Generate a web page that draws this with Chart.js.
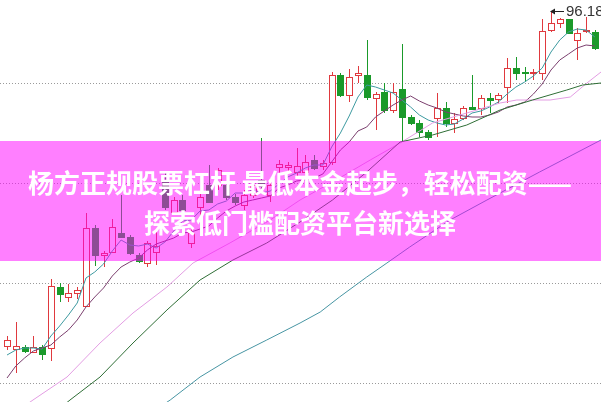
<!DOCTYPE html>
<html>
<head>
<meta charset="utf-8">
<script src="https://cdn.jsdelivr.net/npm/chart.js@4.4.1/dist/chart.umd.min.js"></script>
<style>
  html, body { margin: 0; padding: 0; background: #fff; }
  canvas { display: block; }
</style>
</head>
<body>
<canvas id="kChart" width="601" height="402"></canvas>
<script>
// K线数据 (按日)
const opens = [
  62.70, 62.40, 62.60, 62.10, 62.60, 62.50, 68.60, 67.60, 68.00, 66.70,
  74.50, 71.80, 72.10, 74.00, 73.60, 71.80, 71.00, 72.10, 79.30, 76.10,
  77.30, 73.00, 76.60, 78.80, 78.80, 78.80, 77.60, 76.80, 77.80, 79.30,
  77.80, 80.60, 80.60, 80.10, 80.10, 81.30, 80.70, 81.10, 89.80, 87.80,
  89.80, 89.80, 87.50, 88.10, 86.30, 88.40, 85.60, 85.00, 84.10, 85.50,
  86.50, 85.00, 85.50, 86.60, 86.50, 87.50, 87.40, 88.60, 90.50, 90.10,
  90.00, 90.00, 94.30, 95.00, 95.40, 93.30, 94.20, 94.10
];
const highs = [
  63.70, 65.10, 62.80, 63.70, 62.80, 69.40, 69.00, 68.90, 68.60, 76.00,
  74.80, 72.20, 75.40, 77.80, 73.80, 72.00, 73.20, 74.30, 80.00, 77.60,
  77.80, 74.50, 78.00, 80.80, 80.50, 79.10, 77.90, 78.30, 79.10, 83.50,
  79.50, 81.30, 81.10, 82.50, 81.80, 81.80, 81.30, 90.10, 90.00, 90.40,
  90.70, 93.30, 88.10, 89.00, 89.00, 92.90, 85.80, 85.30, 84.30, 88.00,
  87.10, 86.00, 86.70, 89.80, 87.80, 88.00, 88.00, 91.50, 91.60, 90.60,
  90.40, 95.40, 96.18, 95.50, 95.40, 94.50, 95.60, 94.30
];
const lows = [
  62.30, 60.00, 62.00, 62.00, 61.30, 61.20, 67.10, 67.10, 67.40, 66.60,
  70.70, 70.60, 72.00, 73.50, 71.80, 71.00, 70.60, 70.80, 76.30, 75.80,
  76.00, 72.50, 74.30, 77.00, 78.30, 77.30, 76.80, 76.30, 77.50, 78.30,
  77.10, 79.50, 80.10, 79.60, 79.60, 80.30, 80.30, 80.80, 87.60, 87.10,
  89.00, 87.30, 84.30, 86.00, 86.00, 83.10, 84.80, 83.60, 83.30, 83.60,
  84.60, 84.00, 85.30, 86.30, 85.80, 86.00, 87.00, 87.00, 89.30, 89.10,
  89.30, 89.30, 94.10, 94.50, 94.00, 91.30, 94.00, 92.30
];
const closes = [
  63.30, 62.70, 62.20, 62.60, 61.90, 68.70, 67.90, 68.00, 68.30, 74.50,
  71.80, 72.00, 74.60, 73.60, 72.00, 71.20, 73.00, 72.70, 76.60, 77.30,
  76.30, 74.00, 77.60, 77.10, 80.30, 77.60, 77.10, 77.80, 78.80, 78.70,
  78.80, 80.90, 80.80, 80.70, 81.10, 80.50, 81.00, 89.80, 87.80, 89.60,
  90.00, 87.60, 87.90, 86.30, 88.10, 85.60, 85.00, 84.10, 83.60, 86.50,
  85.00, 85.40, 86.50, 86.40, 87.50, 87.30, 87.80, 90.50, 90.00, 90.00,
  90.10, 94.20, 95.00, 95.40, 94.00, 94.00, 94.30, 92.50
];

// 均线
const ma5 = [
  61.8, 62.3, 62.5, 62.5, 62.4, 63.7, 64.7, 65.8, 67.0, 69.5,
  70.1, 70.9, 72.2, 73.3, 72.8, 72.7, 72.9, 72.5, 73.1, 74.2,
  75.2, 75.3, 76.2, 76.3, 76.9, 77.2, 78.0, 78.0, 78.3, 78.0,
  78.2, 78.9, 79.6, 80.0, 80.5, 80.8, 80.8, 82.6, 84.0, 85.7,
  87.6, 88.8, 88.6, 88.3, 88.0, 87.3, 86.6, 85.8, 85.3, 85.0,
  84.8, 84.9, 85.4, 86.0, 86.2, 86.6, 87.1, 87.9, 88.6, 89.1,
  89.7, 90.5, 92.1, 93.3, 94.1, 94.4, 94.3, 93.6
];
const ma10 = [
  59.5, 60.7, 61.5, 62.2, 62.5, 62.8, 63.6, 64.3, 65.3, 66.6,
  67.6, 68.5, 69.7, 70.6, 71.1, 71.5, 72.3, 72.9, 73.2, 73.5,
  74.0, 74.1, 74.4, 74.7, 75.5, 76.2, 76.7, 77.1, 77.3, 77.5,
  77.7, 78.5, 78.8, 79.2, 79.3, 79.5, 79.9, 81.1, 82.3, 83.1,
  84.2, 84.6, 85.6, 86.2, 86.8, 87.3, 87.7, 87.2, 86.8, 86.5,
  86.1, 85.9, 85.7, 85.6, 85.6, 85.8, 86.1, 86.6, 86.8, 87.1,
  87.9, 88.9, 90.3, 91.3, 91.9, 92.5, 92.8, 92.7
];
const ma20Idx = [0, 2.96, 6.84, 10.6, 14.36, 18.23, 21.2, 25.4, 30.0, 33.4, 37.9, 41.4, 44.8, 48.5, 52.4, 56.2, 58.1, 61.9, 64.2, 66.1, 67.7];
const ma20 = [55.5, 57.3, 59.6, 63.0, 66.0, 68.6, 71.0, 73.0, 75.3, 77.3, 79.5, 81.3, 83.0, 85.0, 86.0, 87.0, 87.3, 87.3, 87.6, 89.0, 90.1];
const ma60Idx = [5.5, 7.18, 10.6, 14.36, 18.23, 22.0, 25.75, 29.6, 33.4, 37.1, 41.0, 44.8, 48.5, 52.4, 56.2, 59.9, 63.8, 65.6, 67.7];
const ma60 = [56.1, 57.3, 59.6, 63.0, 66.3, 69.3, 71.3, 73.0, 75.1, 77.3, 80.1, 83.1, 83.8, 84.8, 86.3, 87.3, 88.3, 88.8, 89.0];
const ma120Idx = [17.4, 18.6, 22.0, 25.75, 29.6, 33.4, 35.7, 37.9, 41.0, 43.3, 45.9, 50.5, 54.7, 60.7, 67.7];
const ma120 = [56.6, 57.3, 59.6, 61.6, 63.3, 65.0, 66.1, 67.6, 69.6, 71.0, 72.6, 75.3, 77.3, 80.1, 83.3];

const gridValues = [59, 69, 79, 89];

const bannerLines = ['杨方正规股票杠杆 最低本金起步，轻松配资——', '探索低门槛配资平台新选择'];

const UP = '#e0393e';
const DOWN = '#1a9a2a';

function pts(xs, ys) {
  return ys.map((v, i) => ({ x: xs ? xs[i] : i, y: v }));
}

// 画K线
const candlePlugin = {
  id: 'candles',
  beforeDatasetsDraw(chart) {
    const { ctx, scales: { x, y } } = chart;
    ctx.save();
    ctx.lineWidth = 1;
    for (let i = 0; i < opens.length; i++) {
      const cx = Math.round(x.getPixelForValue(i));
      const yo = y.getPixelForValue(opens[i]);
      const yc = y.getPixelForValue(closes[i]);
      const yh = Math.round(y.getPixelForValue(highs[i]));
      const yl = Math.round(y.getPixelForValue(lows[i]));
      const top = Math.round(Math.min(yo, yc));
      const bot = Math.round(Math.max(yo, yc));
      const up = closes[i] >= opens[i];
      const col = up ? UP : DOWN;
      ctx.strokeStyle = col;
      ctx.fillStyle = col;
      ctx.beginPath();
      ctx.moveTo(cx + 0.5, yh);
      ctx.lineTo(cx + 0.5, top);
      ctx.moveTo(cx + 0.5, bot);
      ctx.lineTo(cx + 0.5, yl);
      ctx.stroke();
      if (bot - top < 1) {
        ctx.fillRect(cx - 3, top, 7, 1);
      } else if (up) {
        ctx.fillStyle = '#fff';
        ctx.fillRect(cx - 3, top, 7, bot - top);
        ctx.strokeRect(cx - 2.5, top + 0.5, 6, bot - top);
      } else {
        ctx.fillRect(cx - 3, top, 7, bot - top + 1);
      }
    }
    ctx.restore();
  }
};

// 横幅 + 最高价标注
const overlayPlugin = {
  id: 'overlay',
  afterDatasetsDraw(chart) {
    const { ctx, scales: { x, y } } = chart;
    ctx.save();
    ctx.fillStyle = 'rgba(255,0,255,0.5)';
    ctx.fillRect(0, 141, chart.width, 120);
    ctx.fillStyle = '#fff';
    ctx.font = 'bold 26px "Noto Sans CJK SC"';
    ctx.textAlign = 'center';
    ctx.textBaseline = 'middle';
    ctx.fillText(bannerLines[0], 300, 183);
    ctx.fillText(bannerLines[1], 300, 223);

    let hi = 0;
    highs.forEach((v, i) => { if (v > highs[hi]) hi = i; });
    const ax = Math.round(x.getPixelForValue(hi)) - 1;
    const ay = Math.round(y.getPixelForValue(highs[hi])) + 0.5;
    ctx.strokeStyle = '#222';
    ctx.fillStyle = '#222';
    ctx.lineWidth = 1;
    ctx.beginPath();
    ctx.moveTo(ax + 2, ay);
    ctx.lineTo(ax + 14, ay);
    ctx.stroke();
    ctx.beginPath();
    ctx.moveTo(ax, ay);
    ctx.lineTo(ax + 5, ay - 3);
    ctx.lineTo(ax + 5, ay + 3);
    ctx.closePath();
    ctx.fill();
    ctx.font = '15px "Liberation Sans"';
    ctx.textAlign = 'left';
    ctx.fillStyle = '#333';
    ctx.fillText(highs[hi].toFixed(2), ax + 16, ay);
    ctx.restore();
  }
};

function lineSet(data, color) {
  return {
    data: data,
    borderColor: color,
    borderWidth: 1,
    pointRadius: 0,
    tension: 0,
    fill: false
  };
}

const kChart = new Chart(document.getElementById('kChart').getContext('2d'), {
  type: 'line',
  data: {
    datasets: [
      lineSet(pts(ma120Idx, ma120), '#4795a3'),
      lineSet(pts(ma60Idx, ma60), '#2f6e36'),
      lineSet(pts(ma20Idx, ma20), '#e39de3'),
      lineSet(pts(null, ma10), '#7b3f6e'),
      lineSet(pts(null, ma5), '#3d9aa0')
    ]
  },
  options: {
    responsive: false,
    animation: false,
    devicePixelRatio: 1,
    layout: { padding: 0 },
    plugins: { legend: { display: false }, tooltip: { enabled: false } },
    scales: {
      x: { type: 'linear', min: -0.8, max: 67.7, display: false },
      y: {
        min: 57.1,
        max: 97.3,
        afterBuildTicks: s => { s.ticks = gridValues.map(v => ({ value: v })); },
        ticks: { display: false },
        grid: { color: '#9a9a9a', drawTicks: false, tickLength: 0 },
        border: { display: false, dash: [1, 2] }
      }
    }
  },
  plugins: [candlePlugin, overlayPlugin]
});
</script>
</body>
</html>
